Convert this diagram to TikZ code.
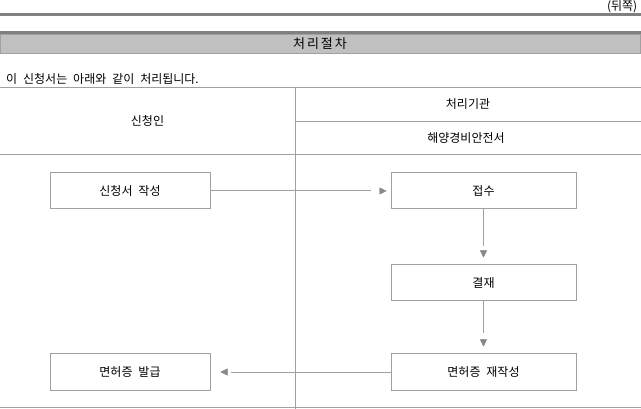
\documentclass[tikz,border=0pt]{standalone}
\usepackage{fontspec}
\setmainfont[WordSpace=2.2]{Noto Sans CJK KR}
\usetikzlibrary{arrows.meta}
\definecolor{rule}{HTML}{808080}
\definecolor{band}{HTML}{C0C0C0}
\definecolor{tline}{HTML}{A0A0A0}
\definecolor{tipc}{HTML}{888888}
\tikzset{
  txt/.style={font=\fontsize{12}{14}\selectfont, inner sep=0pt},
  boxn/.style={draw=tline, line width=1pt, minimum height=36pt, font=\fontsize{12}{14}\selectfont, inner sep=0pt},
  lbox/.style={boxn, minimum width=160pt},
  rbox/.style={boxn, minimum width=185pt},
  conn/.style={draw=tline, line width=1pt},
  tipn/.style={draw=tipc, line width=0.4pt, -{Triangle[length=7pt,width=7pt,fill=tipc]}}
}
\begin{document}
\begin{tikzpicture}[x=1pt,y=-1pt]
\useasboundingbox (0,0) rectangle (641,409);
% header
\node[txt, anchor=east] (back) at (637.5,7) {(뒤쪽)};
\draw[rule, line width=3pt] (0,15) -- (641,15);
\draw[rule, line width=3pt] (0,33) -- (641,33);
\draw[tline, fill=band, line width=1pt] (0.5,34.5) rectangle (640.5,54);
\node[txt, font=\fontsize{13}{15}\selectfont\addfontfeature{LetterSpace=15}] (title) at (320,44) {처리절차};
\node[txt, anchor=west] (intro) at (6,79) {이 신청서는 아래와 같이 처리됩니다.};
% table
\draw[tline, line width=1pt] (0,88) -- (641,88);
\draw[tline, line width=1pt] (295,88) -- (295,409);
\draw[tline, line width=1pt] (295,121.5) -- (641,121.5);
\draw[tline, line width=1pt] (0,155) -- (641,155);
\draw[tline, line width=1pt] (0,407.5) -- (641,407.5);
\node[txt] (appl) at (147.5,121) {신청인};
\node[txt] (org) at (468,104) {처리기관};
\node[txt] (office) at (466,138) {해양경비안전서};
% boxes
\node[lbox] (write) at (130,191) {신청서 작성};
\node[lbox] (issue) at (130,372) {면허증 발급};
\node[rbox] (recv) at (483.5,191) {접수};
\node[rbox] (appr) at (483.5,283) {결재};
\node[rbox] (remake) at (483.5,372) {면허증 재작성};
% connectors
\draw[conn] (write.east) -- ([xshift=-20pt]recv.west);
\draw[tipn] ([xshift=-11pt]recv.west) -- ([xshift=-4pt]recv.west);
\draw[conn] (recv.south) -- ([yshift=18pt]appr.north);
\draw[tipn] ([yshift=14pt]appr.north) -- ([yshift=7pt]appr.north);
\draw[conn] (appr.south) -- ([yshift=20pt]remake.north);
\draw[tipn] ([yshift=14pt]remake.north) -- ([yshift=7pt]remake.north);
\draw[conn] (remake.west) -- ([xshift=20pt]issue.east);
\draw[tipn] ([xshift=17pt]issue.east) -- ([xshift=10pt]issue.east);
\end{tikzpicture}
\end{document}
